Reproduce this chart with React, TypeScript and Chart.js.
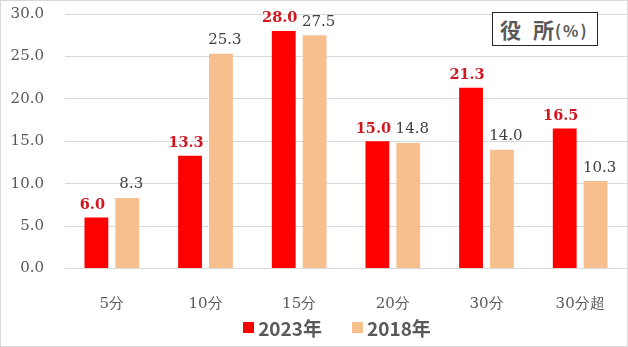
import React, { useEffect, useRef } from "react";
import { Chart, registerables } from "chart.js";

Chart.register(...registerables);

const categories = ["5分", "10分", "15分", "20分", "30分", "30分超"];
const values2023 = [6.0, 13.3, 28.0, 15.0, 21.3, 16.5];
const values2018 = [8.3, 25.3, 27.5, 14.8, 14.0, 10.3];
const seriesNames = ["2023年", "2018年"];
const seriesColors = ["#FF0000", "#F8BF8E"];
const yTicks = [0, 5, 10, 15, 20, 25, 30];

const serif = "'DejaVu Serif', serif";
const sans = "'Noto Sans CJK JP', 'Noto Sans', sans-serif";

const labelPlugin = {
  id: "barLabels",
  afterDatasetsDraw(chart: any) {
    const ctx = chart.ctx;
    chart.data.datasets.forEach((ds: any, di: number) => {
      const meta = chart.getDatasetMeta(di);
      meta.data.forEach((bar: any, i: number) => {
        const v = ds.data[i] as number;
        const text = v.toFixed(1);
        ctx.save();
        ctx.textAlign = "center";
        ctx.textBaseline = "bottom";
        if (di === 0) {
          ctx.font = "bold 14.5px " + serif;
          ctx.fillStyle = "#D0161E";
          ctx.fillText(text, bar.x - 4, bar.y - 5);
        } else {
          ctx.font = "15px " + serif;
          ctx.fillStyle = "#404040";
          ctx.fillText(text, bar.x + 4, bar.y - 6);
        }
        ctx.restore();
      });
    });
  },
};

export default function App() {
  const ref = useRef<HTMLCanvasElement>(null);
  useEffect(() => {
    const chart = new Chart(ref.current!, {
      type: "bar",
      data: {
        labels: categories,
        datasets: [
          {
            label: seriesNames[0],
            data: values2023,
            backgroundColor: seriesColors[0],
            borderWidth: 0,
            categoryPercentage: 0.66,
            barPercentage: 0.77,
          },
          {
            label: seriesNames[1],
            data: values2018,
            backgroundColor: seriesColors[1],
            borderWidth: 0,
            categoryPercentage: 0.66,
            barPercentage: 0.77,
          },
        ],
      },
      options: {
        animation: false,
        responsive: false,
        maintainAspectRatio: false,
        layout: { padding: { top: 14, right: 1, left: 0, bottom: 0 } },
        plugins: {
          tooltip: { enabled: false },
          title: { display: false },
          legend: { display: false },
        },
        scales: {
          x: {
            afterFit: (scale: any) => {
              scale.height = 78.5;
              scale.paddingTop = 0;
              scale.paddingBottom = 0;
            },
            grid: { display: false },
            border: { display: true, color: "#D9D9D9" },
            ticks: {
              color: "#595959",
              font: { family: serif, size: 15 },
              padding: 19,
            },
          },
          y: {
            min: 0,
            max: 30,
            afterBuildTicks: (scale: any) => {
              scale.ticks = yTicks.map((v) => ({ value: v }));
            },
            afterFit: (scale: any) => {
              scale.width = 65;
              scale.paddingTop = 0;
              scale.paddingBottom = 0;
            },
            grid: { color: "#D9D9D9", drawTicks: false },
            border: { display: false },
            ticks: {
              color: "#595959",
              font: { family: serif, size: 15 },
              padding: 21,
              callback: (v: any) => Number(v).toFixed(1),
            },
          },
        },
      },
      plugins: [labelPlugin],
    });
    return () => chart.destroy();
  }, []);
  return (
    <div
      style={{
        position: "absolute",
        left: 0,
        top: 0,
        width: 628,
        height: 347,
        background: "#fff",
      }}
    >
      <canvas ref={ref} width={628} height={347} style={{ position: "absolute", left: 0, top: 0 }} />
      <div
        style={{
          position: "absolute",
          left: 0,
          top: 0,
          width: 626,
          height: 345,
          border: "1px solid #D9D9D9",
          pointerEvents: "none",
        }}
      />
      <div
        style={{
          position: "absolute",
          left: 0,
          top: 315,
          width: 628,
          height: 24,
          display: "flex",
          justifyContent: "center",
          alignItems: "center",
          fontFamily: sans,
          fontWeight: "bold",
          fontSize: 19,
          color: "#595959",
          lineHeight: 1,
          paddingLeft: 46,
          boxSizing: "border-box",
        }}
      >
        {seriesNames.map((n, i) => (
          <span
            key={n}
            style={{ display: "flex", alignItems: "center", marginLeft: i === 0 ? 0 : 30 }}
          >
            <span
              style={{
                display: "inline-block",
                width: 11,
                height: 11,
                background: seriesColors[i],
                marginRight: 4,
              }}
            />
            <span>{n}</span>
          </span>
        ))}
      </div>
      <div
        style={{
          position: "absolute",
          left: 492,
          top: 12,
          width: 106,
          height: 34,
          border: "1px solid #262626",
          background: "#fff",
          fontFamily: sans,
          fontWeight: "bold",
          color: "#595959",
          display: "flex",
          alignItems: "center",
          justifyContent: "flex-start",
          paddingLeft: 7,
          boxSizing: "border-box",
          lineHeight: 1,
        }}
      >
        <span style={{ fontSize: 21 }}>役</span>
        <span style={{ fontSize: 21, marginLeft: 12 }}>所</span>
        <span style={{ fontSize: 16, letterSpacing: 2, marginLeft: 1, paddingTop: 2 }}>(%)</span>
      </div>
    </div>
  );
}
